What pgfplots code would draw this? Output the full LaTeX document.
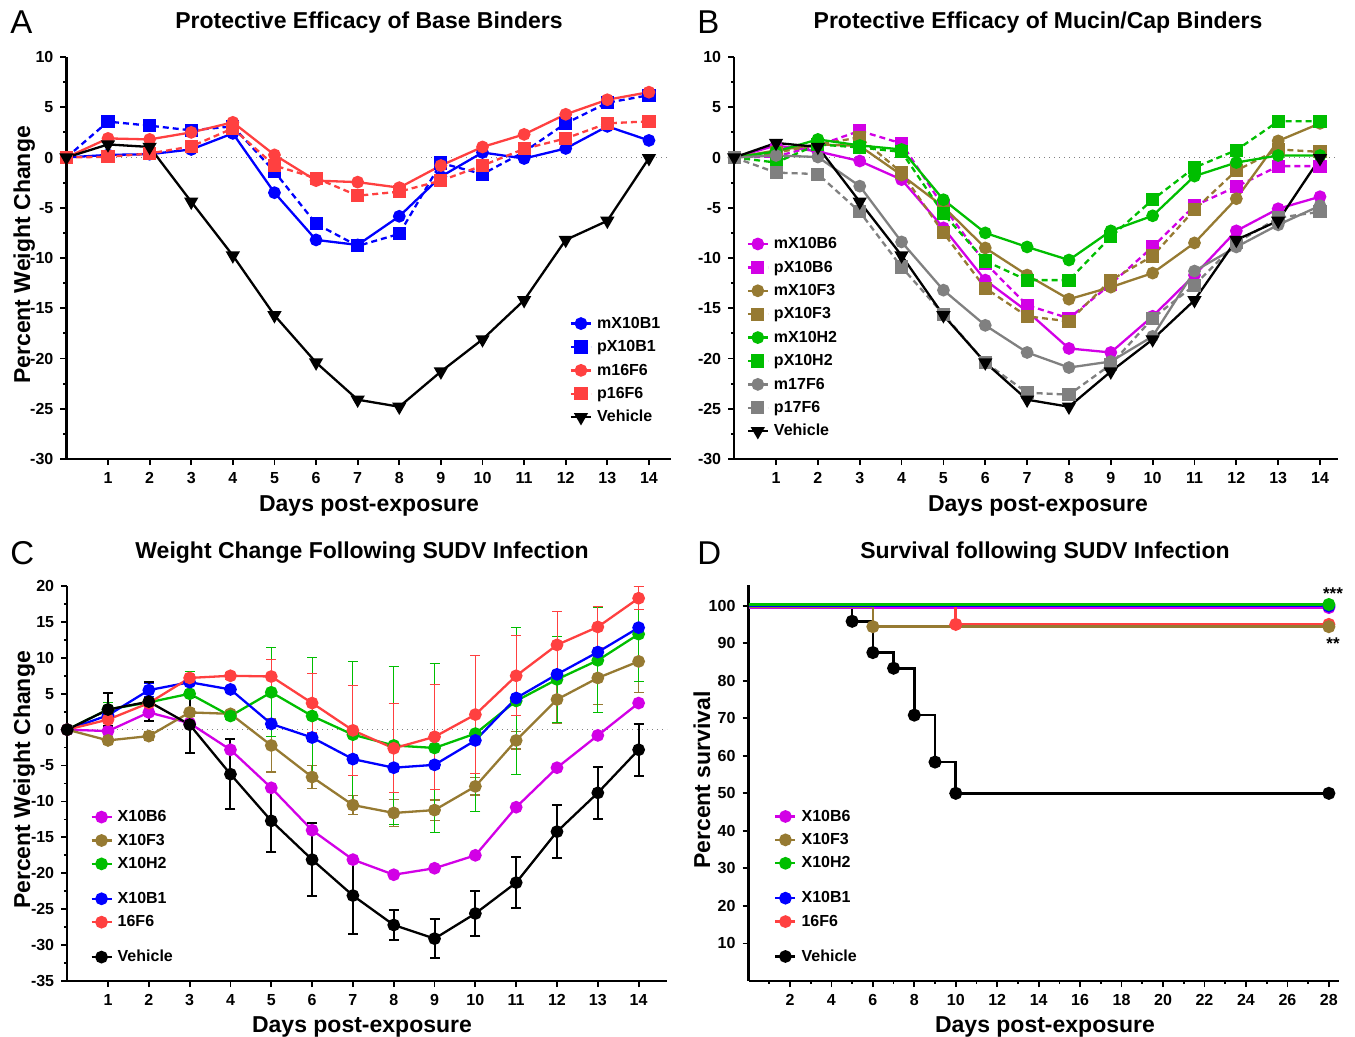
\documentclass[border=0pt]{standalone}
\usepackage{pgfplots}
\pgfplotsset{compat=1.18}
\usepackage{fontspec}
\setmainfont{Liberation Sans}
\definecolor{cblue}{RGB}{0,0,255}
\definecolor{cred}{RGB}{255,64,64}
\definecolor{cmag}{RGB}{210,0,230}
\definecolor{colive}{RGB}{150,122,50}
\definecolor{cgreen}{RGB}{0,190,0}
\definecolor{cgray}{RGB}{128,128,128}
\tikzset{gap/.style={text height=5.75pt, text depth=0pt}}
\pgfplotsset{
 panel/.style={scale only axis, axis lines=left, axis line style={-, line width=1.2pt},
   tick style={black, line width=0.9pt}, tick align=outside,
   major tick length=3pt, minor tick length=1.6pt,
   tick label style={font=\bfseries\fontsize{8}{9}\selectfont},
   /pgf/number format/assume math mode=true, clip=false,
   legend style={draw=none, fill=none, font=\bfseries\fontsize{8}{9}\selectfont,
     row sep=0pt, inner sep=0pt,
     nodes={inner xsep=2.5pt, inner ysep=0pt, text height=8.2pt, text depth=3.5pt}},
   legend cell align=left,
   legend image code/.code={\draw[mark repeat=2,mark phase=2] plot coordinates {(0pt,0pt) (5pt,0pt) (10pt,0pt)};}},
 ser/.style={line width=1.15pt, mark options={solid}},
 dsh/.style={dash pattern=on 3pt off 2pt},
 circ/.style={mark=*, mark size=2.6pt},
 sq/.style={mark=square*, mark size=2.7pt},
 tri/.style={mark=triangle*, mark size=3pt, mark options={solid, rotate=180}},
}
\begin{document}
\begin{tikzpicture}
\useasboundingbox (0,0) rectangle (677.5pt,-518.5pt);
% ---------------- Panel A
\begin{axis}[panel, at={(33.2pt,-229.5pt)}, anchor=south west, width=302.3pt, height=201pt,
  xmin=0, xmax=14.53, ymin=-30, ymax=10, xtick={1,...,14}, ytick={-30,-25,...,10}, minor y tick num=1,
  legend style={at={(0.832,0.367)}, anchor=north west}]
\addplot[gray, dotted, line width=0.5pt, forget plot] coordinates {(0,0) (14.53,0)};
\addplot[cblue, ser, circ] coordinates {(0,0)(1,0.26)(2,0.33)(3,0.8)(4,2.4)(5,-3.5)(6,-8.2)(7,-8.7)(8,-5.85)(9,-1.9)(10,0.5)(11,-0.1)(12,0.9)(13,3.1)(14,1.7)};
\addlegendentry{mX10B1}
\addplot[cblue, ser, dsh, sq] coordinates {(0,0)(1,3.57)(2,3.17)(3,2.7)(4,3.1)(5,-1.4)(6,-6.6)(7,-8.8)(8,-7.6)(9,-0.55)(10,-1.65)(11,0.56)(12,3.4)(13,5.45)(14,6.2)};
\addlegendentry{pX10B1}
\addplot[cred, ser, circ] coordinates {(0,0)(1,1.9)(2,1.8)(3,2.5)(4,3.5)(5,0.26)(6,-2.3)(7,-2.45)(8,-3.0)(9,-0.8)(10,1.05)(11,2.3)(12,4.3)(13,5.75)(14,6.5)};
\addlegendentry{m16F6}
\addplot[cred, ser, dsh, sq] coordinates {(0,0)(1,0.07)(2,0.4)(3,1.1)(4,2.9)(5,-0.8)(6,-2.05)(7,-3.8)(8,-3.4)(9,-2.3)(10,-0.8)(11,0.86)(12,1.9)(13,3.4)(14,3.6)};
\addlegendentry{p16F6}
\addplot[black, ser, tri] coordinates {(0,0)(1,1.3)(2,1.05)(3,-4.4)(4,-9.75)(5,-15.7)(6,-20.4)(7,-24.1)(8,-24.8)(9,-21.3)(10,-18.1)(11,-14.2)(12,-8.2)(13,-6.3)(14,-0.07)};
\addlegendentry{Vehicle}
\end{axis}
% ---------------- Panel B
\begin{axis}[panel, at={(367.1pt,-229.5pt)}, anchor=south west, width=301.9pt, height=201pt,
  xmin=0, xmax=14.43, ymin=-30, ymax=10, xtick={1,...,14}, ytick={-30,-25,...,10}, minor y tick num=1,
  legend style={at={(0.02,0.565)}, anchor=north west}]
\addplot[gray, dotted, line width=0.5pt, forget plot] coordinates {(0,0) (14.43,0)};
\addplot[cmag, ser, circ] coordinates {(0,0)(1,1.2)(2,0.6)(3,-0.35)(4,-2.2)(5,-7.0)(6,-12.2)(7,-15.3)(8,-19.0)(9,-19.4)(10,-15.8)(11,-11.7)(12,-7.3)(13,-5.1)(14,-3.9)};
\addlegendentry{mX10B6}
\addplot[cmag, ser, dsh, sq] coordinates {(0,0)(1,0.1)(2,1.2)(3,2.65)(4,1.4)(5,-4.9)(6,-10.5)(7,-14.7)(8,-16.0)(9,-12.6)(10,-8.9)(11,-4.8)(12,-2.9)(13,-0.86)(14,-0.86)};
\addlegendentry{pX10B6}
\addplot[colive, ser, circ] coordinates {(0,0)(1,0.7)(2,1.3)(3,1.15)(4,-1.75)(5,-4.9)(6,-9.0)(7,-11.7)(8,-14.1)(9,-12.9)(10,-11.5)(11,-8.5)(12,-4.1)(13,1.65)(14,3.4)};
\addlegendentry{mX10F3}
\addplot[colive, ser, dsh, sq] coordinates {(0,0)(1,0.46)(2,1.3)(3,2.0)(4,-1.5)(5,-7.5)(6,-13.0)(7,-15.8)(8,-16.3)(9,-12.2)(10,-9.8)(11,-5.2)(12,-1.3)(13,0.8)(14,0.56)};
\addlegendentry{pX10F3}
\addplot[cgreen, ser, circ] coordinates {(0,0)(1,0.6)(2,1.8)(3,1.2)(4,0.8)(5,-4.2)(6,-7.5)(7,-8.9)(8,-10.2)(9,-7.3)(10,-5.8)(11,-1.85)(12,-0.5)(13,0.2)(14,0.2)};
\addlegendentry{mX10H2}
\addplot[cgreen, ser, dsh, sq] coordinates {(0,0)(1,-0.5)(2,1.3)(3,1.0)(4,0.56)(5,-5.6)(6,-10.3)(7,-12.2)(8,-12.2)(9,-7.9)(10,-4.2)(11,-1.0)(12,0.73)(13,3.6)(14,3.6)};
\addlegendentry{pX10H2}
\addplot[cgray, ser, circ] coordinates {(0,0)(1,0.2)(2,0.05)(3,-2.85)(4,-8.4)(5,-13.2)(6,-16.7)(7,-19.4)(8,-20.9)(9,-20.3)(10,-17.8)(11,-11.3)(12,-8.9)(13,-6.7)(14,-4.8)};
\addlegendentry{m17F6}
\addplot[cgray, ser, dsh, sq] coordinates {(0,0)(1,-1.5)(2,-1.65)(3,-5.4)(4,-10.9)(5,-15.6)(6,-20.4)(7,-23.4)(8,-23.6)(9,-20.6)(10,-16.0)(11,-12.7)(12,-8.5)(13,-6.0)(14,-5.4)};
\addlegendentry{p17F6}
\addplot[black, ser, tri] coordinates {(0,0)(1,1.45)(2,1.05)(3,-4.4)(4,-9.75)(5,-15.7)(6,-20.4)(7,-24.1)(8,-24.8)(9,-21.3)(10,-18.1)(11,-14.2)(12,-8.2)(13,-6.3)(14,-0.07)};
\addlegendentry{Vehicle}
\end{axis}
% ---------------- Panel C
\begin{axis}[panel, at={(33.6pt,-490.5pt)}, anchor=south west, width=300pt, height=197.5pt,
  xmin=0, xmax=14.7, ymin=-35, ymax=20, xtick={1,...,14}, ytick={-35,-30,...,20}, minor y tick num=1,
  legend style={at={(0.038,0.4456)}, anchor=north west}]
\addplot[gray, dotted, line width=0.5pt, forget plot] coordinates {(0,0) (14.7,0)};
\addplot[cmag, ser, circ] coordinates {(0,0)(1,-0.2)(2,2.4)(3,0.9)(4,-2.8)(5,-8.1)(6,-14.0)(7,-18.1)(8,-20.2)(9,-19.3)(10,-17.5)(11,-10.8)(12,-5.3)(13,-0.8)(14,3.7)};
\addlegendentry{X10B6}
\addplot[colive, ser, circ, error bars/.cd, y dir=both, y explicit, error bar style={line width=0.6pt}, error mark options={rotate=90, mark size=2.5pt, line width=0.6pt}] coordinates {
 (0,0) +- (0,0) (1,-1.5) +- (0,0.6) (2,-0.9) +- (0,0.6) (3,2.4) +- (0,0.5) (4,2.2) +- (0,0.5) (5,-2.2) +- (0,3.7) (6,-6.6) +- (0,1.6) (7,-10.5) +- (0,1.3) (8,-11.6) +- (0,1.9) (9,-11.2) +- (0,1.4) (10,-7.9) +- (0,1.2) (11,-1.5) +- (0,1.2) (12,4.2) +- (0,3.4) (13,7.2) +- (0,3.7) (14,9.5) +- (0,4.3)};
\addlegendentry{X10F3}
\addplot[cgreen, ser, circ, error bars/.cd, y dir=both, y explicit, error bar style={line width=0.5pt}, error mark options={rotate=90, mark size=2.5pt, line width=0.5pt}] coordinates {
 (0,0) +- (0,0) (1,2.8) +- (0,1.0) (2,3.8) +- (0,0.5) (3,5.0) +- (0,3.1) (4,1.9) +- (0,0.5) (5,5.2) +- (0,6.2) (6,1.9) +- (0,8.1) (7,-0.7) +- (0,10.2) (8,-2.2) +- (0,11.0) (9,-2.55) +- (0,11.8) (10,-0.55) +- (0,10.9) (11,4.0) +- (0,10.2) (12,7.0) +- (0,6.0) (13,9.65) +- (0,7.3) (14,13.3) +- (0,6.6)};
\addlegendentry{X10H2}
\addlegendimage{empty legend}\addlegendentry[gap]{}
\addplot[cblue, ser, circ, error bars/.cd, y dir=both, y explicit, error bar style={line width=0.6pt}, error mark options={rotate=90, mark size=2.5pt, line width=0.6pt}] coordinates {
 (0,0) +- (0,0) (1,2.0) +- (0,0.5) (2,5.5) +- (0,0.9) (3,6.6) +- (0,0.5) (4,5.6) +- (0,0.4) (5,0.8) +- (0,0.5) (6,-1.1) +- (0,0.5) (7,-4.1) +- (0,0.5) (8,-5.3) +- (0,0.5) (9,-4.9) +- (0,0.5) (10,-1.5) +- (0,0.5) (11,4.4) +- (0,0.5) (12,7.7) +- (0,0.5) (13,10.8) +- (0,0.4) (14,14.2) +- (0,0.4)};
\addlegendentry{X10B1}
\addplot[cred, ser, circ, error bars/.cd, y dir=both, y explicit, error bar style={line width=0.5pt}, error mark options={rotate=90, mark size=2.5pt, line width=0.5pt}] coordinates {
 (0,0) +- (0,0) (1,1.4) +- (0,0.5) (2,3.7) +- (0,0.5) (3,7.2) +- (0,0.5) (4,7.5) +- (0,0.5) (5,7.4) +- (0,2.4) (6,3.7) +- (0,4.1) (7,-0.1) +- (0,6.3) (8,-2.6) +- (0,6.2) (9,-1.0) +- (0,7.3) (10,2.1) +- (0,8.2) (11,7.5) +- (0,5.6) (12,11.8) +- (0,4.7) (13,14.3) +- (0,2.9) (14,18.3) +- (0,1.6)};
\addlegendentry{16F6}
\addlegendimage{empty legend}\addlegendentry[gap]{}
\addplot[black, ser, circ, error bars/.cd, y dir=both, y explicit, error bar style={line width=1pt}, error mark options={rotate=90, mark size=2.5pt, line width=1pt}] coordinates {
 (0,0) +- (0,0) (1,2.8) +- (0,2.3) (2,3.9) +- (0,2.7) (3,0.7) +- (0,3.9) (4,-6.2) +- (0,4.9) (5,-12.7) +- (0,4.3) (6,-18.1) +- (0,5.1) (7,-23.1) +- (0,5.3) (8,-27.2) +- (0,2.1) (9,-29.1) +- (0,2.7) (10,-25.6) +- (0,3.2) (11,-21.3) +- (0,3.5) (12,-14.2) +- (0,3.7) (13,-8.8) +- (0,3.6) (14,-2.8) +- (0,3.6)};
\addlegendentry{Vehicle}
\end{axis}
% ---------------- Panel D
\begin{axis}[panel, at={(374.25pt,-490.5pt)}, anchor=south west, width=295.25pt, height=198pt,
  xmin=0, xmax=28.49, ymin=0, ymax=105.5, xtick={2,4,...,28}, minor xtick={1,3,...,27}, ytick={10,20,...,100},
  legend style={at={(0.043,0.446)}, anchor=north west}]
\addplot[black, ser, line width=1.3pt, circ, mark indices={2,3,4,5,6,7,8}, const plot, forget plot] coordinates {(0,100)(5,95.83)(6,87.5)(7,83.33)(8,70.83)(9,58.33)(10,50)(28,50)};
\addplot[cmag, ser, line width=1.3pt, circ, mark indices={2}, forget plot] coordinates {(0,99.5)(28,99.5)};
\addplot[cred, ser, line width=1.3pt, circ, mark indices={2,3}, const plot, forget plot] coordinates {(0,100)(10,95)(28,95)};
\addplot[colive, ser, line width=1.3pt, circ, mark indices={2,3}, const plot, forget plot] coordinates {(0,99.7)(6,94.4)(28,94.4)};
\addplot[cblue, ser, line width=1.3pt, circ, mark indices={2}, forget plot] coordinates {(0,99.9)(28,99.9)};
\addplot[cgreen, ser, line width=1.3pt, circ, mark indices={2}, forget plot] coordinates {(0,100.3)(28,100.3)};
\addlegendimage{cmag, ser, circ}\addlegendentry{X10B6}
\addlegendimage{colive, ser, circ}\addlegendentry{X10F3}
\addlegendimage{cgreen, ser, circ}\addlegendentry{X10H2}
\addlegendimage{empty legend}\addlegendentry[gap]{}
\addlegendimage{cblue, ser, circ}\addlegendentry{X10B1}
\addlegendimage{cred, ser, circ}\addlegendentry{16F6}
\addlegendimage{empty legend}\addlegendentry[gap]{}
\addlegendimage{black, ser, circ}\addlegendentry{Vehicle}
\node[font=\bfseries\fontsize{8.5}{9}\selectfont] at (axis cs:28.2,103.2) {***};
\node[font=\bfseries\fontsize{8.5}{9}\selectfont] at (axis cs:28.2,90.0) {**};
\end{axis}
% ---------------- Texts
\begin{scope}[every node/.style={inner sep=0pt}]
\node[anchor=base west, font=\fontsize{16.5}{18}\selectfont] at (5pt,-17pt) {A};
\node[anchor=base west, font=\fontsize{16.5}{18}\selectfont] at (348.5pt,-17pt) {B};
\node[anchor=base west, font=\fontsize{16.5}{18}\selectfont] at (5pt,-282.5pt) {C};
\node[anchor=base west, font=\fontsize{16.5}{18}\selectfont] at (348.5pt,-282.5pt) {D};
\node[anchor=base, font=\bfseries\fontsize{11.5}{13}\selectfont] at (184.5pt,-14.5pt) {Protective Efficacy of Base Binders};
\node[anchor=base, font=\bfseries\fontsize{11.5}{13}\selectfont] at (519pt,-14.5pt) {Protective Efficacy of Mucin/Cap Binders};
\node[anchor=base, font=\bfseries\fontsize{11.5}{13}\selectfont] at (181pt,-279.5pt) {Weight Change Following SUDV Infection};
\node[anchor=base, font=\bfseries\fontsize{11.5}{13}\selectfont] at (522.5pt,-279.5pt) {Survival following SUDV Infection};
\node[anchor=base, font=\bfseries\fontsize{11.5}{13}\selectfont] at (184.5pt,-255.8pt) {Days post-exposure};
\node[anchor=base, font=\bfseries\fontsize{11.5}{13}\selectfont] at (519pt,-255.8pt) {Days post-exposure};
\node[anchor=base, font=\bfseries\fontsize{11.5}{13}\selectfont] at (181pt,-516.3pt) {Days post-exposure};
\node[anchor=base, font=\bfseries\fontsize{11.5}{13}\selectfont] at (522.5pt,-516.3pt) {Days post-exposure};
\node[anchor=base, rotate=90, font=\bfseries\fontsize{11.5}{13}\selectfont] at (15pt,-127.5pt) {Percent Weight Change};
\node[anchor=base, rotate=90, font=\bfseries\fontsize{11.5}{13}\selectfont] at (15pt,-390pt) {Percent Weight Change};
\node[anchor=base, rotate=90, font=\bfseries\fontsize{11.5}{13}\selectfont] at (355pt,-390pt) {Percent survival};
\end{scope}
\end{tikzpicture}
\end{document}
